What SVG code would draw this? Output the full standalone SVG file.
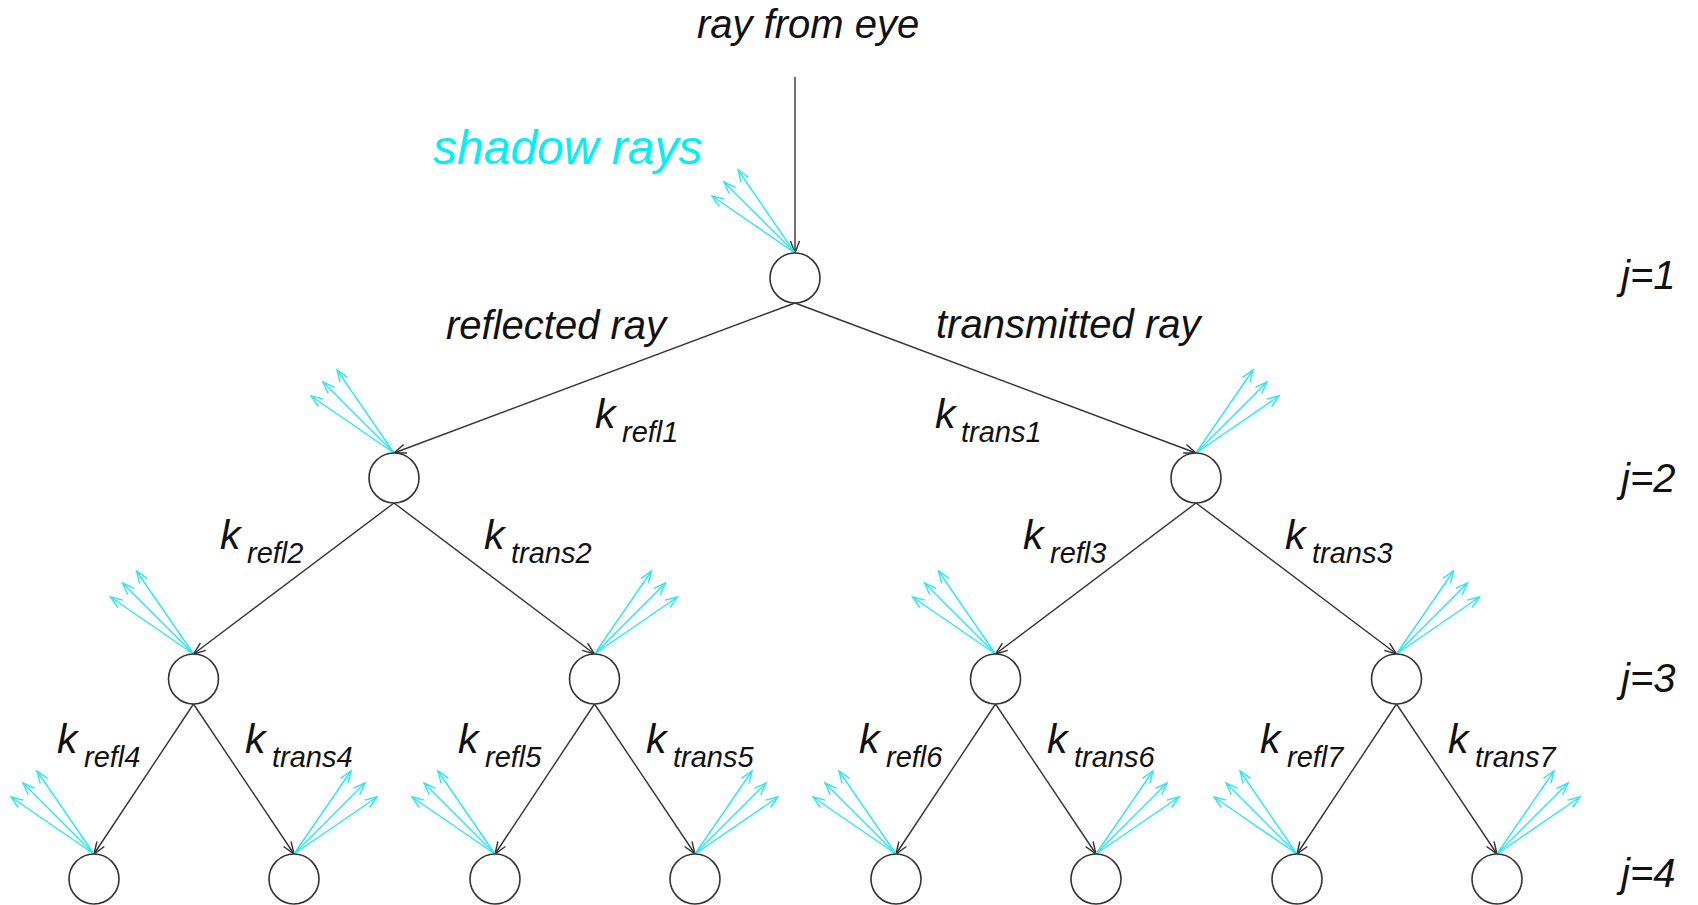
<svg xmlns="http://www.w3.org/2000/svg" width="1698" height="905" viewBox="0 0 1698 905">
<defs>
<marker id="ah" markerUnits="userSpaceOnUse" markerWidth="20" markerHeight="14" viewBox="-14 -7 16 14" refX="0" refY="0" orient="auto">
<path d="M-12,-4.5 L0,0 L-12,4.5" fill="none" stroke="#333" stroke-width="1.4"/>
</marker>
<marker id="ahc" markerUnits="userSpaceOnUse" markerWidth="20" markerHeight="14" viewBox="-14 -7 16 14" refX="0" refY="0" orient="auto">
<path d="M-12,-4.5 L0,0 L-12,4.5" fill="none" stroke="#2ee6f2" stroke-width="1.4"/>
</marker>
</defs>
<style>
.node{fill:#fff;stroke:#333;stroke-width:1.6}
.edge{stroke:#333;stroke-width:1.4;fill:none;marker-end:url(#ah)}
.sr{stroke:#2ee6f2;stroke-width:1.4;fill:none;marker-end:url(#ahc)}
text{font-family:"Liberation Sans",Arial,sans-serif;font-style:italic;fill:#111}
.big{font-size:40px}
.k{font-size:41px}
.sub{font-size:29px}
.j{font-size:40px}
.cy{font-size:48px;fill:#00f0f5}
</style>
<rect width="1698" height="905" fill="#fff"/>
<g id="connectors">
<line class="edge" x1="795" y1="77" x2="795" y2="253"/>
<line class="edge" x1="795" y1="303" x2="394" y2="453"/>
<line class="edge" x1="795" y1="303" x2="1196" y2="453"/>
<line class="edge" x1="394" y1="503" x2="193.5" y2="654"/>
<line class="edge" x1="394" y1="503" x2="594.5" y2="654"/>
<line class="edge" x1="1196" y1="503" x2="995.5" y2="654"/>
<line class="edge" x1="1196" y1="503" x2="1396.5" y2="654"/>
<line class="edge" x1="193.5" y1="704" x2="94" y2="854"/>
<line class="edge" x1="193.5" y1="704" x2="294" y2="854"/>
<line class="edge" x1="594.5" y1="704" x2="495" y2="854"/>
<line class="edge" x1="594.5" y1="704" x2="695" y2="854"/>
<line class="edge" x1="995.5" y1="704" x2="896" y2="854"/>
<line class="edge" x1="995.5" y1="704" x2="1096" y2="854"/>
<line class="edge" x1="1396.5" y1="704" x2="1297" y2="854"/>
<line class="edge" x1="1396.5" y1="704" x2="1497" y2="854"/>
</g>
<g id="shadow-rays">
<g transform="translate(795,253)"><line class="sr" x1="0" y1="0" x2="-57" y2="-83"/><line class="sr" x1="0" y1="0" x2="-71" y2="-71"/><line class="sr" x1="0" y1="0" x2="-83" y2="-57"/></g>
<g transform="translate(394,453)"><line class="sr" x1="0" y1="0" x2="-57" y2="-83"/><line class="sr" x1="0" y1="0" x2="-71" y2="-71"/><line class="sr" x1="0" y1="0" x2="-83" y2="-57"/></g>
<g transform="translate(1196,453)"><line class="sr" x1="0" y1="0" x2="57" y2="-83"/><line class="sr" x1="0" y1="0" x2="71" y2="-71"/><line class="sr" x1="0" y1="0" x2="83" y2="-57"/></g>
<g transform="translate(193.5,654)"><line class="sr" x1="0" y1="0" x2="-57" y2="-83"/><line class="sr" x1="0" y1="0" x2="-71" y2="-71"/><line class="sr" x1="0" y1="0" x2="-83" y2="-57"/></g>
<g transform="translate(594.5,654)"><line class="sr" x1="0" y1="0" x2="57" y2="-83"/><line class="sr" x1="0" y1="0" x2="71" y2="-71"/><line class="sr" x1="0" y1="0" x2="83" y2="-57"/></g>
<g transform="translate(995.5,654)"><line class="sr" x1="0" y1="0" x2="-57" y2="-83"/><line class="sr" x1="0" y1="0" x2="-71" y2="-71"/><line class="sr" x1="0" y1="0" x2="-83" y2="-57"/></g>
<g transform="translate(1396.5,654)"><line class="sr" x1="0" y1="0" x2="57" y2="-83"/><line class="sr" x1="0" y1="0" x2="71" y2="-71"/><line class="sr" x1="0" y1="0" x2="83" y2="-57"/></g>
<g transform="translate(94,854)"><line class="sr" x1="0" y1="0" x2="-57" y2="-83"/><line class="sr" x1="0" y1="0" x2="-71" y2="-71"/><line class="sr" x1="0" y1="0" x2="-83" y2="-57"/></g>
<g transform="translate(294,854)"><line class="sr" x1="0" y1="0" x2="57" y2="-83"/><line class="sr" x1="0" y1="0" x2="71" y2="-71"/><line class="sr" x1="0" y1="0" x2="83" y2="-57"/></g>
<g transform="translate(495,854)"><line class="sr" x1="0" y1="0" x2="-57" y2="-83"/><line class="sr" x1="0" y1="0" x2="-71" y2="-71"/><line class="sr" x1="0" y1="0" x2="-83" y2="-57"/></g>
<g transform="translate(695,854)"><line class="sr" x1="0" y1="0" x2="57" y2="-83"/><line class="sr" x1="0" y1="0" x2="71" y2="-71"/><line class="sr" x1="0" y1="0" x2="83" y2="-57"/></g>
<g transform="translate(896,854)"><line class="sr" x1="0" y1="0" x2="-57" y2="-83"/><line class="sr" x1="0" y1="0" x2="-71" y2="-71"/><line class="sr" x1="0" y1="0" x2="-83" y2="-57"/></g>
<g transform="translate(1096,854)"><line class="sr" x1="0" y1="0" x2="57" y2="-83"/><line class="sr" x1="0" y1="0" x2="71" y2="-71"/><line class="sr" x1="0" y1="0" x2="83" y2="-57"/></g>
<g transform="translate(1297,854)"><line class="sr" x1="0" y1="0" x2="-57" y2="-83"/><line class="sr" x1="0" y1="0" x2="-71" y2="-71"/><line class="sr" x1="0" y1="0" x2="-83" y2="-57"/></g>
<g transform="translate(1497,854)"><line class="sr" x1="0" y1="0" x2="57" y2="-83"/><line class="sr" x1="0" y1="0" x2="71" y2="-71"/><line class="sr" x1="0" y1="0" x2="83" y2="-57"/></g>
</g>
<g id="n1"><circle class="node" cx="795" cy="278" r="25"/></g>
<g id="n2"><circle class="node" cx="394" cy="478" r="25"/></g>
<g id="n3"><circle class="node" cx="1196" cy="478" r="25"/></g>
<g id="n4"><circle class="node" cx="193.5" cy="679" r="25"/></g>
<g id="n5"><circle class="node" cx="594.5" cy="679" r="25"/></g>
<g id="n6"><circle class="node" cx="995.5" cy="679" r="25"/></g>
<g id="n7"><circle class="node" cx="1396.5" cy="679" r="25"/></g>
<g id="n8"><circle class="node" cx="94" cy="879" r="25"/></g>
<g id="n9"><circle class="node" cx="294" cy="879" r="25"/></g>
<g id="n10"><circle class="node" cx="495" cy="879" r="25"/></g>
<g id="n11"><circle class="node" cx="695" cy="879" r="25"/></g>
<g id="n12"><circle class="node" cx="896" cy="879" r="25"/></g>
<g id="n13"><circle class="node" cx="1096" cy="879" r="25"/></g>
<g id="n14"><circle class="node" cx="1297" cy="879" r="25"/></g>
<g id="n15"><circle class="node" cx="1497" cy="879" r="25"/></g>
<g id="labels">
<text class="big" x="697" y="38">ray from eye</text>
<text class="cy" x="433" y="164">shadow rays</text>
<text class="big" x="446" y="339">reflected ray</text>
<text class="big" x="936" y="338">transmitted ray</text>
<text class="k" x="595" y="428">k<tspan class="sub" x="622" y="442">refl1</tspan></text>
<text class="k" x="935" y="428">k<tspan class="sub" x="961" y="442">trans1</tspan></text>
<text class="k" x="220" y="549">k<tspan class="sub" x="247" y="563">refl2</tspan></text>
<text class="k" x="484" y="549">k<tspan class="sub" x="511" y="563">trans2</tspan></text>
<text class="k" x="1023" y="549">k<tspan class="sub" x="1050" y="563">refl3</tspan></text>
<text class="k" x="1285" y="549">k<tspan class="sub" x="1312" y="563">trans3</tspan></text>
<text class="k" x="57" y="753">k<tspan class="sub" x="84" y="767">refl4</tspan></text>
<text class="k" x="245" y="753">k<tspan class="sub" x="272" y="767">trans4</tspan></text>
<text class="k" x="458" y="753">k<tspan class="sub" x="485" y="767">refl5</tspan></text>
<text class="k" x="646" y="753">k<tspan class="sub" x="673" y="767">trans5</tspan></text>
<text class="k" x="859" y="753">k<tspan class="sub" x="886" y="767">refl6</tspan></text>
<text class="k" x="1047" y="753">k<tspan class="sub" x="1074" y="767">trans6</tspan></text>
<text class="k" x="1260" y="753">k<tspan class="sub" x="1287" y="767">refl7</tspan></text>
<text class="k" x="1448" y="753">k<tspan class="sub" x="1475" y="767">trans7</tspan></text>
<text class="j" x="1621" y="289">j=1</text>
<text class="j" x="1621" y="492">j=2</text>
<text class="j" x="1621" y="692">j=3</text>
<text class="j" x="1621" y="887">j=4</text>
</g>
</svg>
